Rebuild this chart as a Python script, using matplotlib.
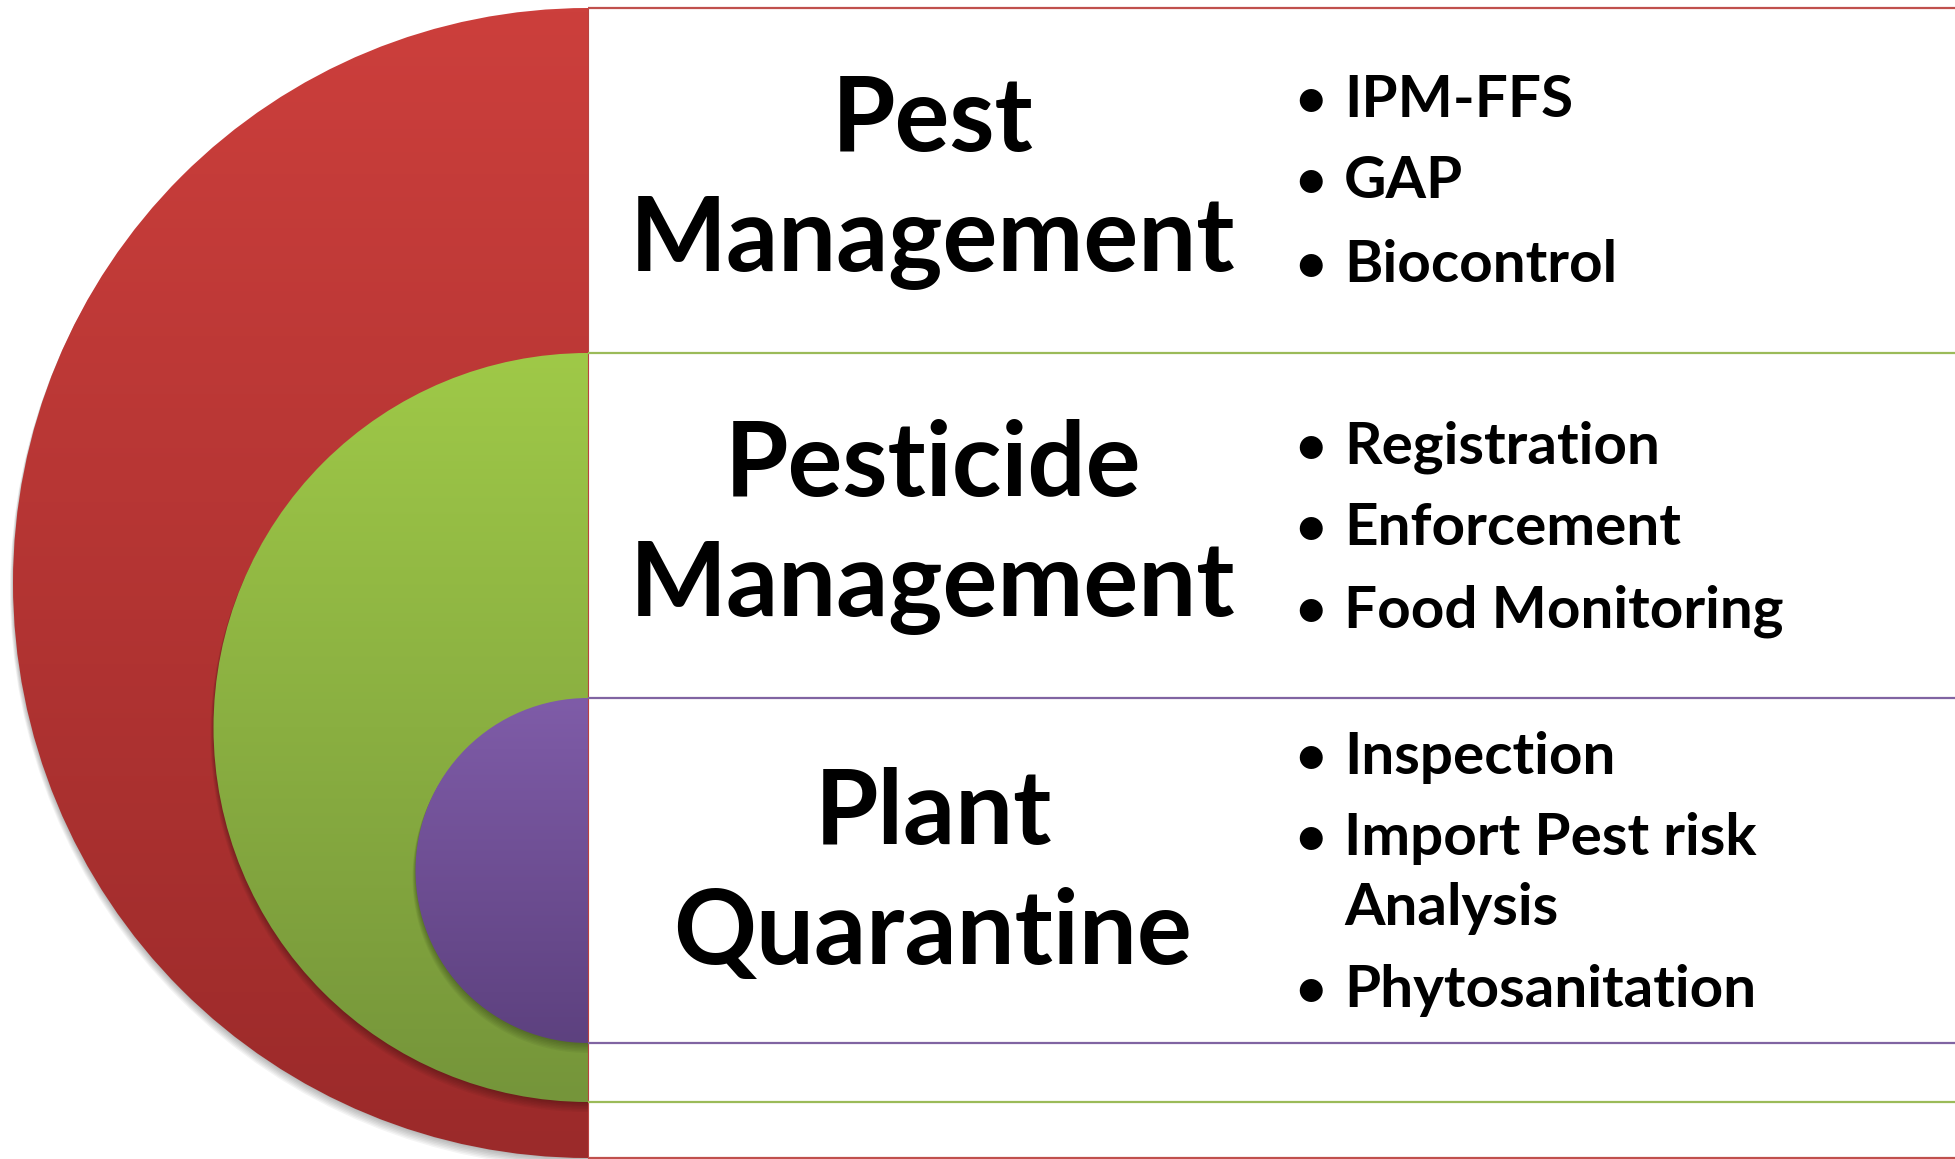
import matplotlib
matplotlib.use("Agg")
import matplotlib.pyplot as plt
import numpy as np
from matplotlib.patches import Wedge
from matplotlib.colors import LinearSegmentedColormap

# labels
topics = [["Pest", "Management"], ["Pesticide", "Management"], ["Plant", "Quarantine"]]
activities = [
    ["IPM-FFS", "GAP", "Biocontrol"],
    ["Registration", "Enforcement", "Food Monitoring"],
    ["Inspection", "Import Pest risk\nAnalysis", "Phytosanitation"],
]

# half discs (center y, radius) in pixels, outer to inner
ring_cy = [583, 727.5, 870.5]
ring_r = [575, 374.5, 172.5]
ring_top = ["#CC3F3C", "#9FC948", "#7F5CA8"]
ring_bottom = ["#9B2A2A", "#75953A", "#5D417F"]
ring_line = ["#C0504D", "#9BBB59", "#8064A2"]

# layout
W, H = 1955, 1159
edge_x = 588
title_x = 933
title_base = [151, 496, 844]
title_step = 120
bullet_x = 1311
item_x = 1344
item_base = [[117, 198, 282], [464, 545, 627], [774, 855, 1007]]
wrap_step = 70

fig = plt.figure(figsize=(W / 100, H / 100), dpi=100)
ax = fig.add_axes([0, 0, 1, 1])
ax.set_xlim(0, W)
ax.set_ylim(H, 0)
ax.axis("off")

for i, (cy, r) in enumerate(zip(ring_cy, ring_r)):
    # soft shadow
    for k in range(7):
        sh = Wedge((edge_x, cy + 1 + k), r + 0.5 * k, 90, 270, color="black", alpha=0.045, lw=0, zorder=2 * i)
        ax.add_patch(sh)
    wedge = Wedge((edge_x, cy), r, 90, 270, facecolor="none", edgecolor="none", zorder=2 * i + 1)
    ax.add_patch(wedge)
    cmap = LinearSegmentedColormap.from_list("g%d" % i, [ring_top[i], ring_bottom[i]])
    grad = np.linspace(0, 1, 256).reshape(-1, 1)
    im = ax.imshow(grad, cmap=cmap, aspect="auto", origin="upper",
                   extent=(edge_x - r - 10, edge_x, cy + r, cy - r), zorder=2 * i + 1)
    im.set_clip_path(wedge)
    for y in (cy - r, cy + r):
        ax.plot([edge_x, W], [y, y], color=ring_line[i], lw=1.6, zorder=10,
                solid_capstyle="butt")

ax.plot([edge_x, edge_x], [ring_cy[0] - ring_r[0], ring_cy[0] + ring_r[0]],
        color="#B94240", lw=0.8, zorder=9)

font = dict(family="Lato", weight="bold", color="black")

for lines, base in zip(topics, title_base):
    for j, line in enumerate(lines):
        ax.text(title_x, base + j * title_step, line, ha="center", va="baseline",
                fontsize=74, zorder=11, **font)

for items, bases in zip(activities, item_base):
    for item, base in zip(items, bases):
        ax.text(bullet_x, base, "\u2022", ha="center", va="baseline", fontsize=38, zorder=11, **font)
        for j, part in enumerate(item.split("\n")):
            ax.text(item_x, base + j * wrap_step, part, ha="left", va="baseline",
                    fontsize=42, zorder=11, **font)

fig.savefig("out.png", dpi=100, facecolor="white")
